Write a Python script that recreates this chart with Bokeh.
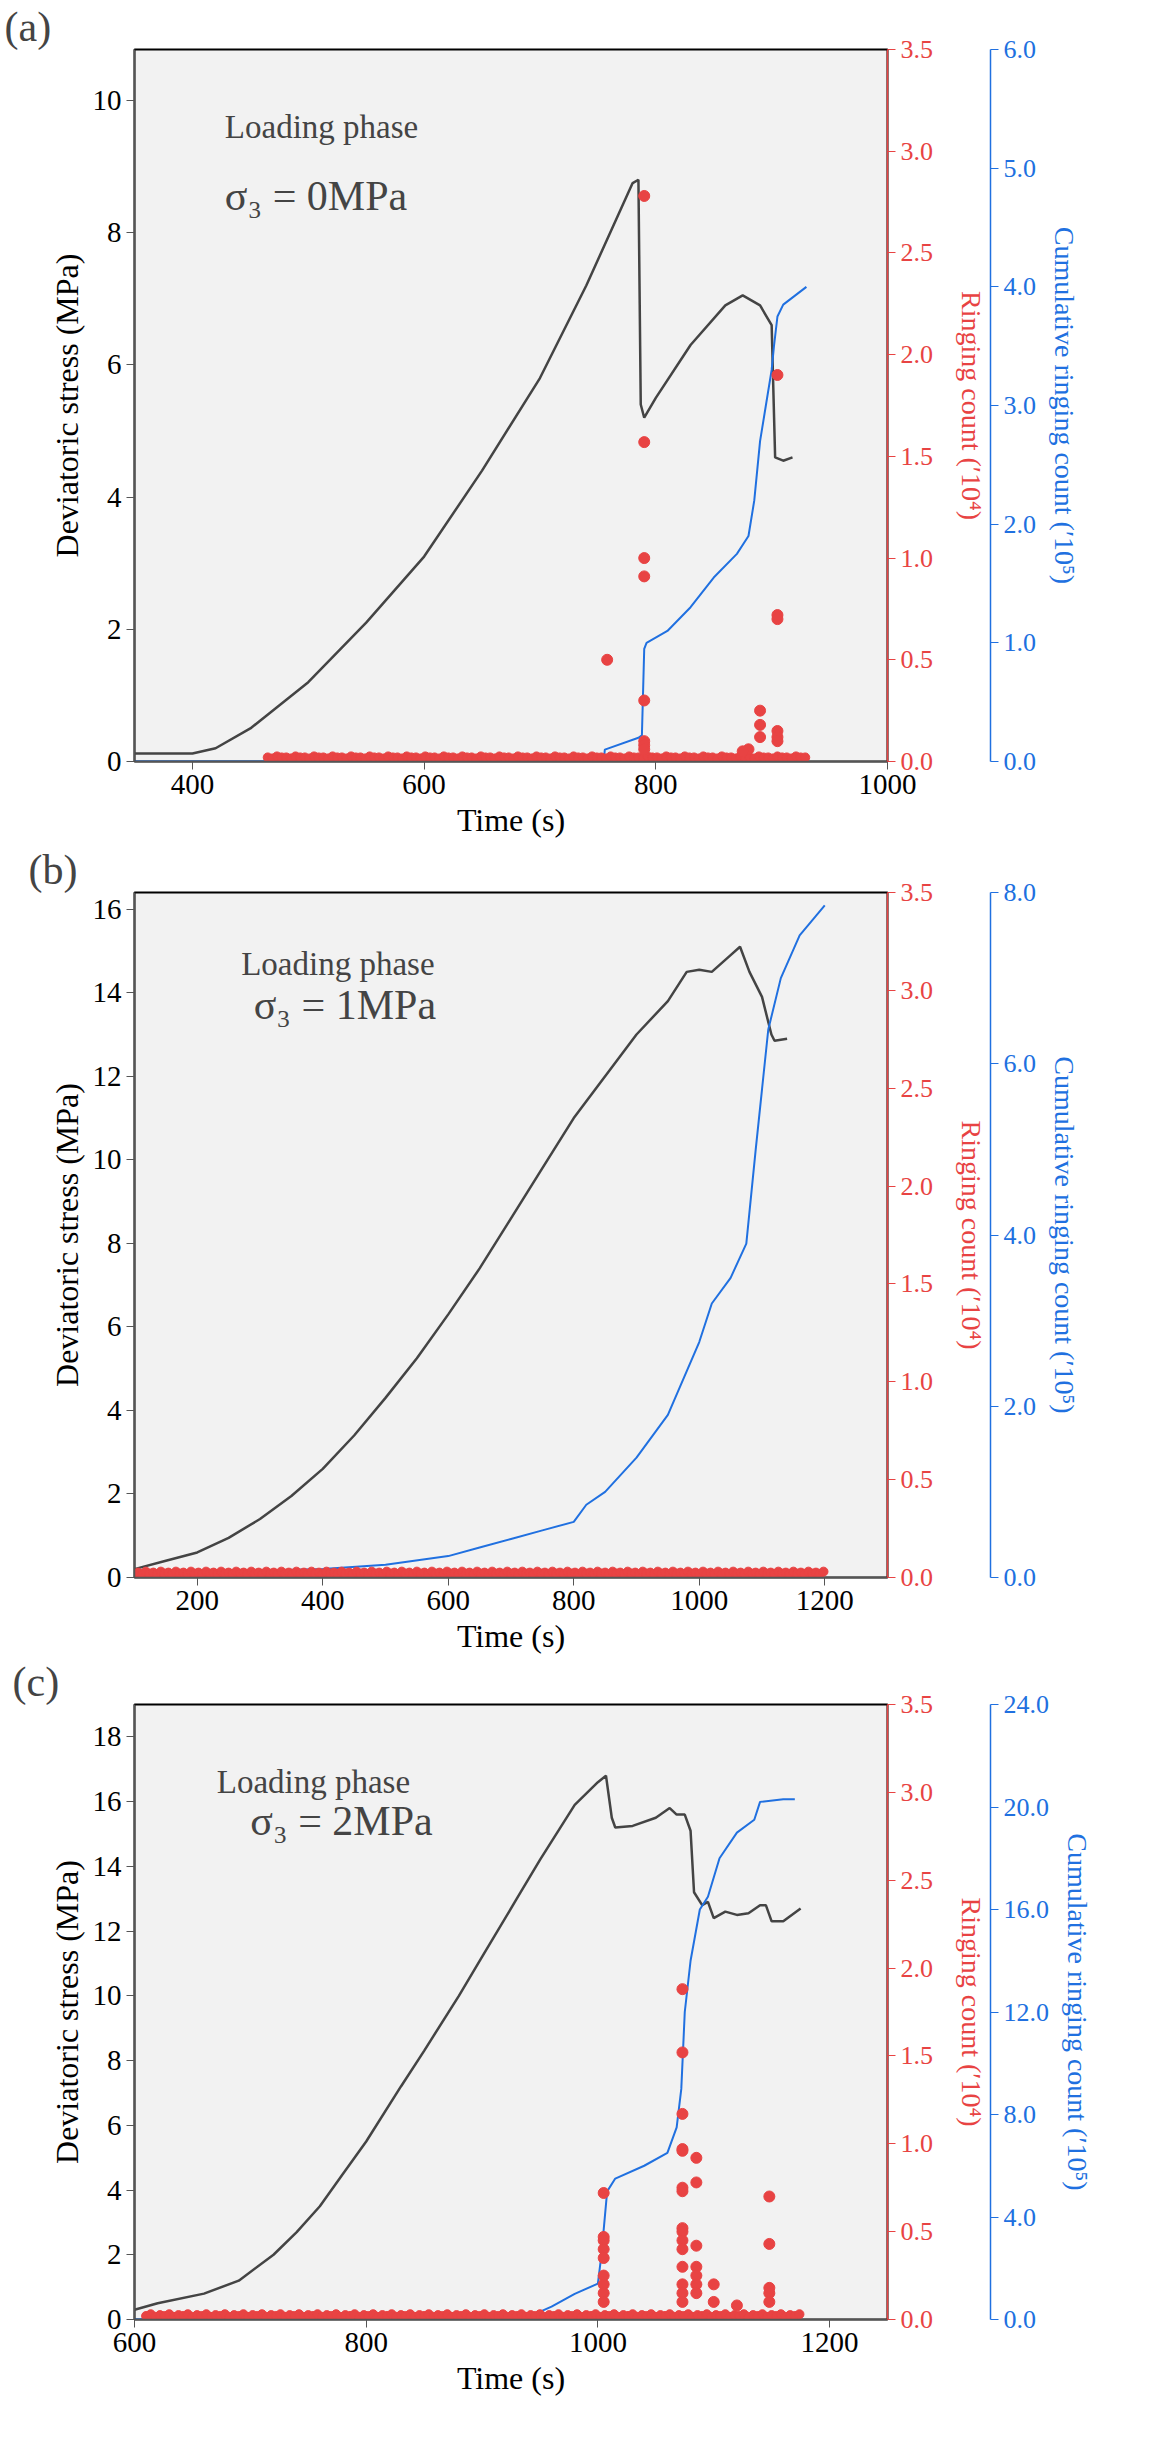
from bokeh.plotting import figure
from bokeh.models import Range1d, LinearAxis, Label, Title, PrintfTickFormatter
from bokeh.layouts import column
from bokeh.embed import file_html
from bokeh.resources import INLINE

FONT = "Liberation Serif"
BLACK, RED, BLUE = "#444444", "#e84343", "#2070e0"

# ---- panel (a) ----
a_t = [350,400,420,450,500,550,600,650,700,740,780,785,787,790,800,830,860,875,890,895,900,903,910,918]
a_s = [0.12,0.12,0.2,0.5,1.2,2.1,3.1,4.4,5.8,7.2,8.75,8.8,5.4,5.2,5.5,6.3,6.9,7.05,6.9,6.75,6.6,4.6,4.55,4.6]
a_ct = [350,755,756,785,788,790,792,810,830,850,870,880,885,890,895,900,902,905,910,930]
a_c = [0,0,0.1,0.2,0.22,0.95,1.0,1.1,1.3,1.55,1.75,1.9,2.2,2.7,3.0,3.3,3.5,3.75,3.85,4.0]
a_rt = [758,790,790,790,790,790,790,790,790,905,905,905,890,890,890,905,905,905,880,875]
a_r = [0.5,2.78,1.57,1.0,0.91,0.3,0.1,0.08,0.06,1.9,0.72,0.7,0.25,0.18,0.12,0.15,0.12,0.1,0.06,0.05]
a_bt = list(range(465, 930, 4))
a_b = [0.02, 0.015, 0.025, 0.02] * 30
# ---- panel (b) ----
b_t = [100,150,200,250,300,350,400,450,500,550,600,650,700,750,800,850,900,950,980,1000,1020,1050,1065,1080,1100,1115,1120,1140]
b_s = [0.2,0.4,0.6,0.95,1.4,1.95,2.6,3.4,4.3,5.25,6.3,7.4,8.6,9.8,11.0,12.0,13.0,13.8,14.5,14.55,14.5,14.9,15.1,14.5,13.9,13.0,12.85,12.9]
b_ct = [100,200,300,400,500,600,650,700,750,800,820,850,900,950,1000,1020,1050,1075,1090,1110,1130,1160,1200]
b_c = [0.05,0.07,0.08,0.1,0.15,0.25,0.35,0.45,0.55,0.65,0.85,1.0,1.4,1.9,2.75,3.2,3.5,3.9,5.0,6.4,7.0,7.5,7.85]
b_bt = list(range(100, 1200, 6))
b_b = [0.02, 0.025, 0.018, 0.03] * 47
# ---- panel (c) ----
c_t = [600,620,660,690,720,740,760,780,800,830,850,880,900,930,950,980,1000,1007,1012,1015,1030,1050,1062,1068,1075,1080,1083,1090,1095,1100,1110,1120,1130,1140,1145,1150,1160,1175]
c_s = [0.3,0.5,0.8,1.2,2.0,2.7,3.5,4.5,5.5,7.2,8.3,10.0,11.2,13.0,14.2,15.9,16.6,16.8,15.5,15.2,15.25,15.5,15.8,15.6,15.6,15.1,13.2,12.8,12.9,12.4,12.6,12.5,12.55,12.8,12.8,12.3,12.3,12.7]
c_ct = [600,940,960,980,1000,1003,1008,1015,1040,1060,1068,1072,1075,1080,1088,1095,1105,1120,1135,1140,1160,1170]
c_c = [0,0.1,0.5,1.0,1.4,2.5,5.0,5.5,6.0,6.5,7.5,9.0,12.0,14.0,16.0,16.5,18.0,19.0,19.5,20.2,20.3,20.3]
c_rt = [1005]*9 + [1073]*15 + [1085]*7 + [1100,1100,1120] + [1148]*5
c_r = [0.72,0.47,0.45,0.4,0.35,0.25,0.2,0.15,0.1,
       1.88,1.52,1.17,0.97,0.96,0.75,0.73,0.52,0.5,0.45,0.4,0.3,0.2,0.15,0.1,
       0.92,0.78,0.42,0.3,0.25,0.2,0.15, 0.2,0.1,0.08, 0.7,0.43,0.18,0.15,0.1]
c_bt = list(range(610, 1175, 4))
c_b = [0.02, 0.03, 0.015, 0.025] * 36


def style(ax, col, tick_px, lab_px):
    ax.axis_line_color = col
    ax.axis_line_width = 1.5
    ax.major_tick_line_color = col
    ax.minor_tick_line_color = col
    ax.major_tick_out = 8
    ax.major_tick_in = 0
    ax.minor_tick_out = 4
    ax.minor_tick_in = 0
    ax.major_label_text_font = FONT
    ax.major_label_text_font_size = tick_px
    ax.axis_label_text_font = FONT
    ax.axis_label_text_font_size = lab_px
    ax.axis_label_text_font_style = "normal"


def panel(letter, t, s, ct, c, rt, r, bt, b, xr, yr, cmax, xticks, yticks, cticks, sig,
          lp, sp, h, borders):
    top, bottom, left, right = borders
    p = figure(width=1147, height=h, x_range=Range1d(*xr), y_range=Range1d(0, yr),
               output_backend="svg", toolbar_location=None,
               min_border_top=top, min_border_bottom=bottom, min_border_left=left, min_border_right=right)
    p.background_fill_color = "#f2f2f2"
    p.border_fill_color = "white"
    p.outline_line_color = "black"
    p.outline_line_width = 2
    p.grid.visible = False
    p.extra_y_ranges = {"r": Range1d(0, 3.5), "c": Range1d(0, cmax)}
    p.line(t, s, color=BLACK, line_width=2.5)
    p.line(ct, c, color=BLUE, line_width=2, y_range_name="c")
    p.scatter(bt, b[:len(bt)], color=RED, size=9, y_range_name="r")
    if rt:
        p.scatter(rt, r, color=RED, size=11, y_range_name="r")
    for ax in (p.xaxis[0], p.yaxis[0]):
        style(ax, "#555555", "29px", "32px")
        ax.major_label_text_color = "black"
        ax.axis_label_text_color = "black"
    p.xaxis.axis_label = "Time (s)"
    p.yaxis.axis_label = "Deviatoric stress (MPa)"
    p.xaxis.ticker = xticks
    p.xaxis.ticker.num_minor_ticks = 2
    p.yaxis.ticker = yticks
    p.yaxis.ticker.num_minor_ticks = 2
    for name, col, lab, ticks, so in (("r", RED, "Ringing count (\u203210\u2074)", [0,0.5,1,1.5,2,2.5,3,3.5], 20),
                                      ("c", BLUE, "Cumulative ringing count (\u203210\u2075)", cticks, 10)):
        ax = LinearAxis(y_range_name=name, axis_label=lab, ticker=ticks, axis_label_standoff=so)
        ax.ticker.num_minor_ticks = 2
        ax.formatter = PrintfTickFormatter(format="%.1f")
        style(ax, col, "26px", "28px")
        ax.major_label_text_color = col
        ax.axis_label_text_color = col
        p.add_layout(ax, "right")
    p.add_layout(Label(x=lp[0], y=lp[1], text="Loading phase", text_font=FONT,
                       text_font_size="33px", text_baseline="middle"))
    p.add_layout(Label(x=sp[0], y=sp[1], text=sig, text_font=FONT,
                       text_font_size="42px", text_baseline="middle"))
    p.add_layout(Title(text=letter, align="left", offset=-left + 4, text_font=FONT,
                       text_font_size="42px", text_font_style="normal", standoff=0), "above")
    return p


pa = panel("(a)", a_t, a_s, a_ct, a_c, a_rt, a_r, a_bt, a_b, (350, 1000), 10.77, 6.0,
           [400, 600, 800, 1000], [0, 2, 4, 6, 8, 10], [0, 1, 2, 3, 4, 5, 6],
           "\u03c3\u2083 = 0MPa", (428, 9.6), (428, 8.55), 840, (49, 72, 134, 245))
pb = panel("(b)", b_t, b_s, b_ct, b_c, [], [], b_bt, b_b, (100, 1300), 16.4, 8.0,
           [200, 400, 600, 800, 1000, 1200], [0, 2, 4, 6, 8, 10, 12, 14, 16], [0, 2, 4, 6, 8],
           "\u03c3\u2083 = 1MPa", (270, 14.7), (290, 13.7), 816, (52, 52, 110, 260))
pc = panel("(c)", c_t, c_s, c_ct, c_c, c_rt, c_r, c_bt, c_b, (600, 1250), 19.0, 24.0,
           [600, 800, 1000, 1200], [0, 2, 4, 6, 8, 10, 12, 14, 16, 18], [0, 4, 8, 12, 16, 20, 24],
           "\u03c3\u2083 = 2MPa", (671, 16.6), (700, 15.4), 785, (20, 122, 126, 255))

layout = column(pa, pb, pc, spacing=0)
open("out.html", "w").write(file_html(layout, INLINE))
